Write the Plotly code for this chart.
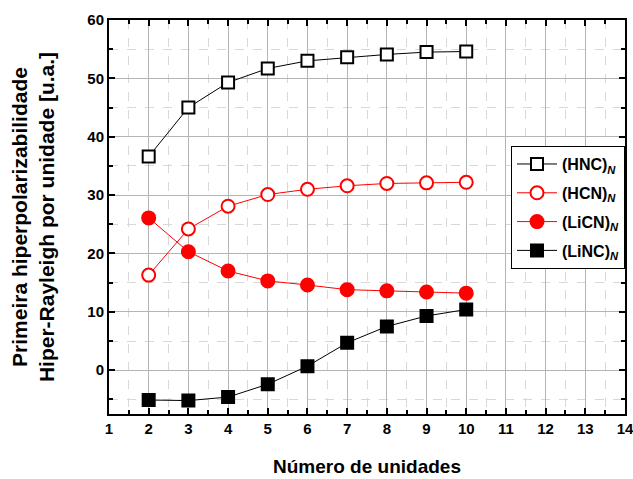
import plotly.graph_objects as go

n_units = [2, 3, 4, 5, 6, 7, 8, 9, 10]
hnc = [36.6, 45.0, 49.3, 51.7, 53.0, 53.6, 54.1, 54.5, 54.6]
hcn = [16.3, 24.2, 28.1, 30.1, 31.0, 31.6, 32.0, 32.1, 32.2]
licn = [26.1, 20.3, 17.0, 15.3, 14.6, 13.8, 13.6, 13.4, 13.2]
linc = [-5.1, -5.2, -4.6, -2.4, 0.7, 4.7, 7.5, 9.3, 10.4]

x_ticks = list(range(1, 15))
y_ticks = [0, 10, 20, 30, 40, 50, 60]

FONT = "Liberation Sans, Arial, sans-serif"

# name, values, symbol, line colour, fill colour, size
series = [
    ("(HNC)", hnc, "square", "black", "white", 12),
    ("(HCN)", hcn, "circle", "red", "white", 13),
    ("(LiCN)", licn, "circle", "red", "red", 13),
    ("(LiNC)", linc, "square", "black", "black", 12),
]

fig = go.Figure()
for i, (name, vals, sym, col, fill, sz) in enumerate(series):
    fig.add_trace(go.Scatter(
        x=n_units, y=vals, mode="lines+markers",
        name=f"<b>{name}</b><sub><b><i>N</i></b></sub>",
        legendgroup=f"g{i}",
        line=dict(color=col, width=1),
        marker=dict(symbol=sym, size=sz, color=fill,
                    line=dict(color=col, width=2)),
    ))

axis_common = dict(
    showline=True, linecolor="black", linewidth=2, mirror="ticks",
    ticks="inside", ticklen=6, tickwidth=2, tickcolor="black",
    showgrid=True, gridcolor="#b4b4b4", gridwidth=1,
    zeroline=False, automargin=False, ticklabeloverflow="allow",
    tickfont=dict(family=FONT, size=15, color="black"),
)

fig.update_xaxes(
    range=[1, 14], tickvals=x_ticks, ticktext=[f"<b>{v}</b>" for v in x_ticks],
    title=dict(text="<b>Número de unidades</b>", font=dict(family=FONT, size=19, color="black"), standoff=24),
    minor=dict(dtick=0.5, ticks="inside", ticklen=4, tickwidth=1.5, tickcolor="black",
               showgrid=True, gridcolor="#d8d8d8", griddash="dash", gridwidth=1),
    **axis_common,
)
fig.update_yaxes(
    range=[-7.5, 60], tickvals=y_ticks, ticktext=[f"<b>{v}</b>" for v in y_ticks],
    title=dict(text="<b>Primeira hiperpolarizabilidade<br>Hiper-Rayleigh por unidade [u.a.]</b>",
               font=dict(family=FONT, size=21, color="black"), standoff=27),
    minor=dict(tickvals=[-5, 5, 15, 25, 35, 45, 55], ticks="inside", ticklen=4, tickwidth=1.5, tickcolor="black",
               showgrid=True, gridcolor="#d8d8d8", griddash="dash", gridwidth=1),
    **axis_common,
)

fig.update_layout(
    width=633, height=479,
    margin=dict(l=109, r=8, t=20, b=65),
    plot_bgcolor="white", paper_bgcolor="white",
    font=dict(family=FONT, color="black"),
    legend=dict(
        x=1.0, xanchor="right", y=0.68, yanchor="top",
        bgcolor="white", bordercolor="black", borderwidth=1,
        font=dict(family=FONT, size=16, color="black"),
        itemwidth=40, tracegroupgap=5,
    ),
    showlegend=True,
)

fig.write_html("out.html")
